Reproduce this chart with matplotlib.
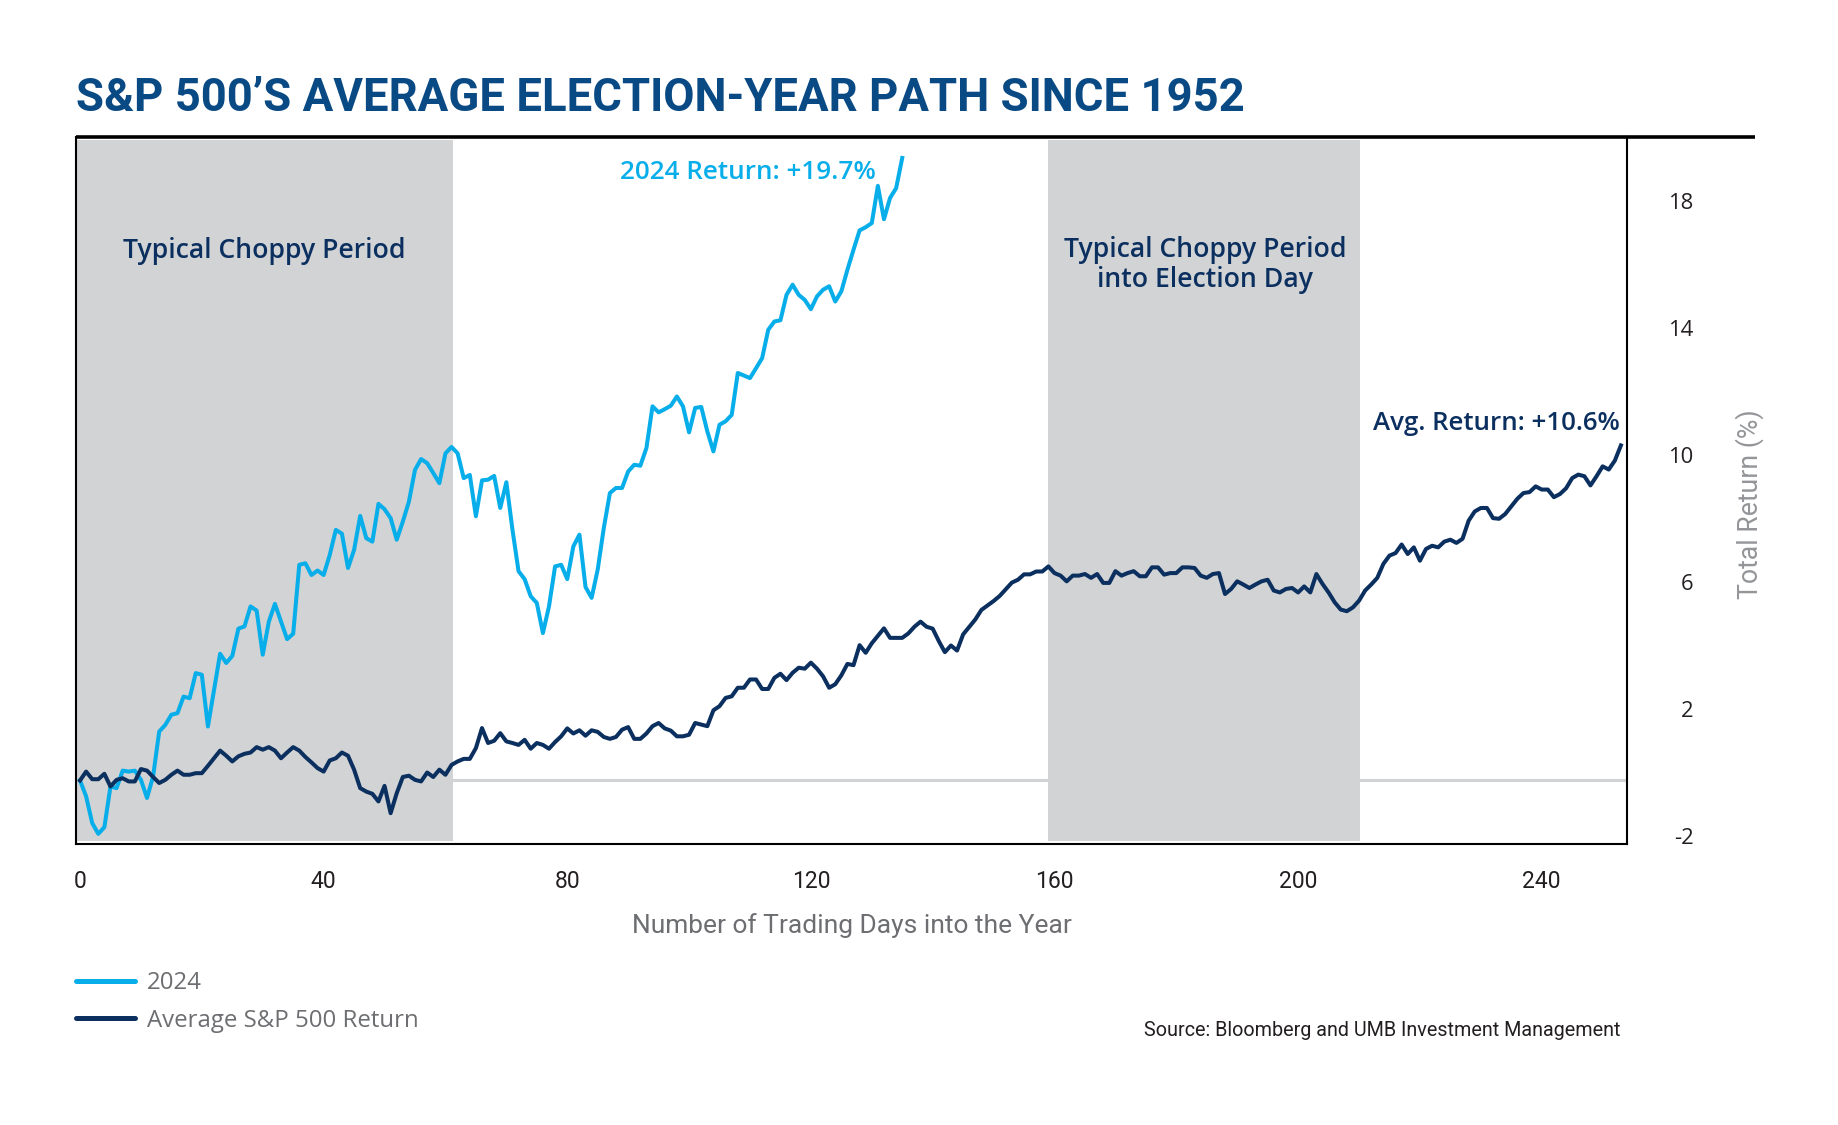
import matplotlib
matplotlib.use("Agg")
import matplotlib.pyplot as plt
from matplotlib.lines import Line2D

# ---------------- data ----------------
TITLE = "S&P 500\u2019S AVERAGE ELECTION-YEAR PATH SINCE 1952"

ret_2024 = [
    0.00, -0.50, -1.34, -1.68, -1.47, -0.19, -0.24, 0.31, 0.28, 0.31,
    0.02, -0.55, 0.13, 1.54, 1.75, 2.07, 2.12, 2.64, 2.59, 3.38,
    3.33, 1.70, 2.85, 3.99, 3.70, 3.92, 4.78, 4.85, 5.48, 5.35,
    3.96, 5.00, 5.56, 5.00, 4.45, 4.62, 6.79, 6.84, 6.47, 6.61,
    6.47, 7.10, 7.89, 7.77, 6.69, 7.26, 8.33, 7.63, 7.52, 8.71,
    8.54, 8.26, 7.58, 8.15, 8.78, 9.78, 10.12, 9.99, 9.68, 9.36,
    10.30, 10.50, 10.30, 9.52, 9.62, 8.32, 9.45, 9.47, 9.59, 8.58,
    9.39, 7.90, 6.59, 6.34, 5.80, 5.59, 4.64, 5.48, 6.74, 6.79,
    6.34, 7.37, 7.74, 6.09, 5.75, 6.64, 7.95, 9.05, 9.21, 9.21,
    9.73, 9.94, 9.91, 10.47, 11.78, 11.59, 11.69, 11.80, 12.09, 11.78,
    10.96, 11.73, 11.76, 10.99, 10.36, 11.20, 11.31, 11.51, 12.83, 12.75,
    12.67, 12.98, 13.30, 14.19, 14.45, 14.49, 15.29, 15.61, 15.29, 15.13,
    14.84, 15.24, 15.45, 15.56, 15.08, 15.40, 16.08, 16.71, 17.32, 17.42,
    17.55, 18.72, 17.67, 18.34, 18.65, 19.60,
]
days_2024 = list(range(len(ret_2024)))

avg_days = (
    list(range(0, 102)) + list(range(103, 131)) + list(range(132, 146))
    + [147, 148] + list(range(150, 254))
)
avg_ret = [
    0.00, 0.28, 0.04, 0.04, 0.21, -0.19, 0.02, 0.07, -0.03, -0.03,
    0.36, 0.31, 0.11, -0.08, 0.02, 0.18, 0.31, 0.18, 0.18, 0.23,
    0.23, 0.46, 0.70, 0.94, 0.78, 0.60, 0.76, 0.84, 0.88, 1.05,
    0.97, 1.05, 0.94, 0.70, 0.88, 1.05, 0.94, 0.74, 0.57, 0.39,
    0.28, 0.63, 0.70, 0.88, 0.78, 0.34, -0.24, -0.35, -0.42, -0.66,
    -0.17, -1.03, -0.40, 0.11, 0.15, 0.02, -0.03, 0.25, 0.11, 0.34,
    # 60..101
    0.18, 0.49, 0.60, 0.68, 0.68, 1.02, 1.65, 1.18, 1.25, 1.49,
    1.23, 1.18, 1.12, 1.28, 1.00, 1.18, 1.12, 1.00, 1.21, 1.39,
    1.64, 1.48, 1.58, 1.41, 1.58, 1.53, 1.37, 1.31, 1.37, 1.60,
    1.68, 1.31, 1.31, 1.48, 1.71, 1.81, 1.64, 1.57, 1.39, 1.39,
    1.44, 1.81,
    # 103..130
    1.71, 2.21, 2.34, 2.60, 2.65, 2.92, 2.92, 3.18, 3.18, 2.88,
    2.88, 3.23, 3.36, 3.16, 3.39, 3.55, 3.52, 3.71, 3.52, 3.28,
    2.92, 3.03, 3.31, 3.67, 3.63, 4.26, 4.02, 4.32,
    # 132..145
    4.79, 4.49, 4.49, 4.49, 4.63, 4.84, 5.00, 4.84, 4.78, 4.39,
    4.04, 4.25, 4.09, 4.60,
    # 147, 148
    5.07, 5.37,
    # 150..253
    5.65, 5.81, 6.02, 6.23, 6.32, 6.49, 6.49, 6.58, 6.58, 6.74,
    6.53, 6.45, 6.27, 6.45, 6.45, 6.50, 6.38, 6.50, 6.22, 6.22,
    6.59, 6.45, 6.53, 6.59, 6.43, 6.43, 6.71, 6.71, 6.48, 6.53,
    6.53, 6.71, 6.71, 6.69, 6.45, 6.38, 6.50, 6.53, 5.87, 6.03,
    6.27, 6.17, 6.06, 6.17, 6.27, 6.32, 5.98, 5.92, 6.03, 6.06,
    5.92, 6.11, 5.92, 6.50, 6.19, 5.92, 5.61, 5.38, 5.33, 5.45,
    5.66, 5.98, 6.17, 6.38, 6.82, 7.08, 7.16, 7.43, 7.13, 7.34,
    6.92, 7.29, 7.39, 7.34, 7.52, 7.58, 7.48, 7.61, 8.18, 8.47,
    8.58, 8.58, 8.26, 8.24, 8.39, 8.63, 8.87, 9.05, 9.08, 9.26,
    9.16, 9.16, 8.92, 9.02, 9.20, 9.52, 9.63, 9.58, 9.29, 9.58,
    9.89, 9.79, 10.07, 10.55,
]

x_ticks = [0, 40, 80, 120, 160, 200, 240]
y_ticks = [-2, 2, 6, 10, 14, 18]
choppy_periods = [(-1.0, 61.2), (159.0, 210.2)]
choppy_labels = ["Typical Choppy Period", "Typical Choppy Period\ninto Election Day"]
series_labels = ["2024", "Average S&P 500 Return"]
end_labels = ["2024 Return: +19.7%", "Avg. Return: +10.6%"]
x_label = "Number of Trading Days into the Year"
y_label = "Total Return (%)"
source = "Source: Bloomberg and UMB Investment Management"

# ---------------- style ----------------
C_CYAN = "#08aeea"
C_NAVY = "#0b2f5f"
C_TITLE = "#0a4a84"
C_SHADE = "#d1d3d4"
C_TEXT = "#231f20"
C_GREY = "#6d6e71"
C_LGREY = "#939598"

W, H = 1838, 1125
fig = plt.figure(figsize=(W / 100, H / 100), dpi=100)
ax = fig.add_axes([76 / W, 1 - 844 / H, (1627 - 76) / W, (844 - 137) / H])
ax.set_xlim(-0.66, 254.0)
ax.set_ylim(-2.0, 20.26)

for a, b in choppy_periods:
    ax.axvspan(a, b, ymin=0.004, ymax=0.996, color=C_SHADE, lw=0, zorder=1)
ax.axhline(0, color=C_SHADE, lw=2.2, zorder=0.5)

line24, = ax.plot(days_2024, ret_2024, color=C_CYAN, lw=2.9, zorder=3)
lineavg, = ax.plot(avg_days, avg_ret, color=C_NAVY, lw=2.9, zorder=3)

for s in ["left", "right", "bottom"]:
    ax.spines[s].set_linewidth(1.5)
    ax.spines[s].set_color("black")
ax.spines["top"].set_visible(False)
fig.add_artist(Line2D([76 / W, 1755 / W], [1 - 137 / H, 1 - 137 / H],
                      transform=fig.transFigure, color="black", lw=2.6,
                      solid_capstyle="butt"))

NARROW = ["Liberation Sans Narrow", "Roboto"]
ax.set_xticks(x_ticks)
ax.set_xticklabels([str(t) for t in x_ticks])
ax.tick_params(axis="x", length=0, pad=19, labelsize=16.5, labelcolor=C_TEXT)
for lab in ax.get_xticklabels():
    lab.set_fontfamily(NARROW)

ax.yaxis.tick_right()
ax.set_yticks(y_ticks)
ax.set_yticklabels([str(t) for t in y_ticks])
ax.tick_params(axis="y", length=0, pad=48, labelsize=15.8, labelcolor=C_TEXT)
for lab in ax.get_yticklabels():
    lab.set_fontfamily(["Open Sans", "DejaVu Sans"])
    lab.set_horizontalalignment("right")
    lab.set_verticalalignment("baseline")

ax.set_xlabel(x_label, color=C_GREY, fontsize=18, fontfamily=["Roboto"],
              fontweight="normal")
ax.xaxis.set_label_coords(0.5003, -0.1259)
ax.xaxis.label.set_verticalalignment("baseline")

ax.set_ylabel(y_label, color=C_LGREY, fontsize=18, fontfamily=["Roboto"],
              fontweight="normal")
ax.yaxis.set_label_position("right")
ax.yaxis.set_label_coords(1.0696, 0.481)

ANN = dict(fontfamily=["Open Sans", "DejaVu Sans"], fontweight="semibold")
t_ch1 = ax.text(0.1212, 0.8289, choppy_labels[0], transform=ax.transAxes,
                ha="center", va="baseline", color=C_NAVY, fontsize=16, **ANN)
t_ch2 = ax.text(0.7279, 0.7878, choppy_labels[1], transform=ax.transAxes,
                ha="center", va="baseline", multialignment="center",
                color=C_NAVY, fontsize=16, linespacing=1.09, **ANN)
t_e1 = ax.text(0.5158, 0.9402, end_labels[0], transform=ax.transAxes,
               ha="right", va="baseline", color=C_CYAN, fontsize=16, **ANN)
t_e2 = ax.text(0.9955, 0.5856, end_labels[1], transform=ax.transAxes,
               ha="right", va="baseline", color=C_NAVY, fontsize=16, **ANN)

t_title = fig.text(76 / W, 1 - 111.4 / H, TITLE, ha="left", va="baseline",
                   color=C_TITLE, fontsize=34, fontweight="bold",
                   fontfamily=["Roboto", "DejaVu Sans"])
t_src = fig.text(1620 / W, 1 - 1036.5 / H, source, ha="right", va="baseline",
                 color=C_TEXT, fontsize=17, fontfamily=NARROW)

renderer = fig.canvas.get_renderer()


def fit(t, target, use_height=False):
    for _ in range(3):
        bb = t.get_window_extent(renderer)
        cur = bb.height if use_height else bb.width
        t.set_fontsize(t.get_fontsize() * target / cur)


fit(t_title, 1167)
fit(t_ch1, 284)
t_ch2.set_fontsize(t_ch1.get_fontsize())
fit(t_e1, 254)
fit(t_e2, 247)
fit(t_src, 477)
fit(ax.xaxis.label, 442)
fit(ax.yaxis.label, 189, use_height=True)

# ---------------- legend ----------------
LEG_FONT = dict(family=["Open Sans", "DejaVu Sans"], weight="normal")
probe = fig.text(0, 0, series_labels[1], fontsize=16, fontfamily=LEG_FONT["family"])
fit(probe, 271)
leg_fs = probe.get_fontsize()
probe.remove()
fs_px = leg_fs * 100 / 72

handles = [Line2D([], [], color=line24.get_color(), lw=3.6, solid_capstyle="round"),
           Line2D([], [], color=lineavg.get_color(), lw=3.6, solid_capstyle="round")]

target_rows = [H - 980.7, H - 1018.3]   # display y of row centres
anchor_top = 970.0
spacing = 0.5
for _ in range(3):
    leg = fig.legend(handles, series_labels, loc="upper left",
                     bbox_to_anchor=(76 / W, 1 - anchor_top / H), frameon=False,
                     borderpad=0, borderaxespad=0,
                     handlelength=59 / fs_px, handletextpad=12 / fs_px,
                     labelspacing=spacing,
                     prop=dict(size=leg_fs, **LEG_FONT),
                     labelcolor=C_GREY)
    fig.canvas.draw()
    ys = []
    for hl in leg.legend_handles:
        bb = hl.get_window_extent(renderer)
        ys.append((bb.y0 + bb.y1) / 2)
    gap_now = ys[0] - ys[1]
    gap_want = target_rows[0] - target_rows[1]
    spacing += (gap_want - gap_now) / fs_px
    anchor_top += ys[0] - target_rows[0]
    leg.remove()

leg = fig.legend(handles, series_labels, loc="upper left",
                 bbox_to_anchor=(76 / W, 1 - anchor_top / H), frameon=False,
                 borderpad=0, borderaxespad=0,
                 handlelength=59 / fs_px, handletextpad=12 / fs_px,
                 labelspacing=spacing,
                 prop=dict(size=leg_fs, **LEG_FONT),
                 labelcolor=C_GREY)

fig.savefig("out.png", dpi=100, facecolor="white")
